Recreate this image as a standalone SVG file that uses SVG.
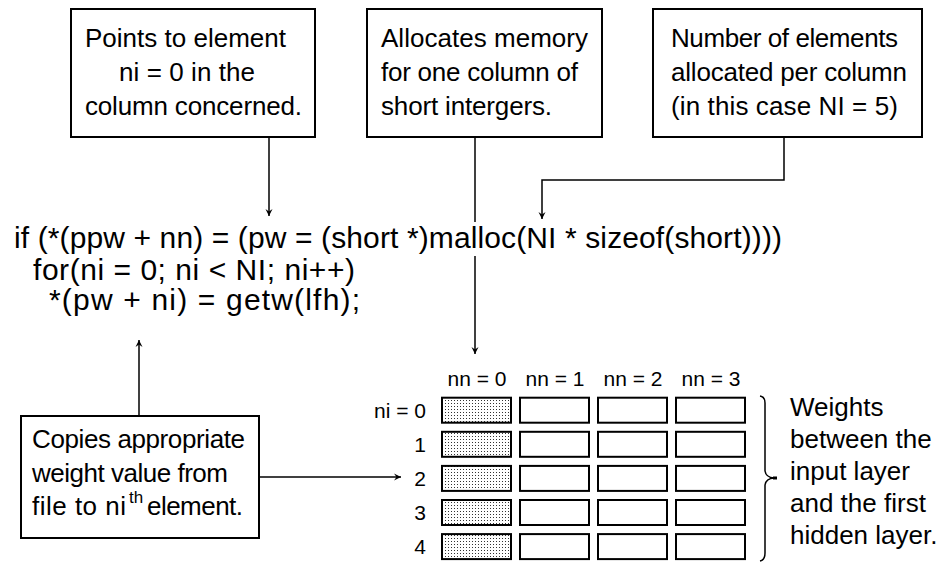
<svg xmlns="http://www.w3.org/2000/svg" width="936" height="562" viewBox="0 0 936 562">
<style>
  .box { fill: #fff; stroke: #000; stroke-width: 2; }
  .t { font-family: "Liberation Sans", Arial, sans-serif; font-size: 26px; fill: #000; }
  .code { font-family: "Liberation Sans", Arial, sans-serif; font-size: 30px; fill: #000; }
  .lab { font-family: "Liberation Sans", Arial, sans-serif; font-size: 21px; fill: #000; }
  .sup { font-family: "Liberation Sans", Arial, sans-serif; font-size: 17px; fill: #000; }
  .ln { fill: none; stroke: #000; stroke-width: 1.5; }
  .cell { fill: #fff; stroke: #000; stroke-width: 2; }
  .cell0 { fill: url(#dots); stroke: #000; stroke-width: 2; }
</style>
<defs>
  <pattern id="dots" x="0" y="0" width="3" height="3" patternUnits="userSpaceOnUse">
    <rect width="3" height="3" fill="#fff"/>
    <rect x="1" y="1" width="1" height="1" fill="#333"/>
  </pattern>
  <marker id="arr" markerUnits="userSpaceOnUse" markerWidth="10" markerHeight="10" refX="8" refY="5" orient="auto">
    <path d="M1,1.5 L8,5 L1,8.5 L3.5,5 Z" fill="#000"/>
  </marker>
</defs>
<rect width="936" height="562" fill="#fff"/>

<g id="note-points">
  <rect class="box" x="71" y="9" width="244" height="128"/>
  <text class="t" x="85" y="47" textLength="201" lengthAdjust="spacing">Points to element</text>
  <text class="t" x="119" y="81" textLength="136" lengthAdjust="spacing">ni = 0 in the</text>
  <text class="t" x="85" y="115" textLength="217" lengthAdjust="spacing">column concerned.</text>
</g>

<g id="note-allocates">
  <rect class="box" x="367" y="9" width="235" height="128"/>
  <text class="t" x="381" y="47" textLength="207" lengthAdjust="spacing">Allocates memory</text>
  <text class="t" x="381" y="81" textLength="197" lengthAdjust="spacing">for one column of</text>
  <text class="t" x="381" y="115" textLength="171" lengthAdjust="spacing">short intergers.</text>
</g>

<g id="note-number">
  <rect class="box" x="653" y="9" width="269" height="128"/>
  <text class="t" x="671" y="47" textLength="227" lengthAdjust="spacing">Number of elements</text>
  <text class="t" x="671" y="81" textLength="236" lengthAdjust="spacing">allocated per column</text>
  <text class="t" x="671" y="115" textLength="227" lengthAdjust="spacing">(in this case NI = 5)</text>
</g>

<g id="code">
  <text class="code" x="14" y="248" textLength="768" lengthAdjust="spacing">if (*(ppw + nn) = (pw = (short *)malloc(NI * sizeof(short))))</text>
  <text class="code" x="33" y="280" textLength="322" lengthAdjust="spacing">for(ni = 0; ni &lt; NI; ni++)</text>
  <text class="code" x="49" y="310" textLength="311" lengthAdjust="spacing">*(pw + ni) = getw(lfh);</text>
</g>

<g id="note-copies">
  <rect class="box" x="21" y="416" width="238" height="122"/>
  <text class="t" x="32" y="448" textLength="213" lengthAdjust="spacing">Copies appropriate</text>
  <text class="t" x="32" y="482" textLength="196" lengthAdjust="spacing">weight value from</text>
  <text class="t" x="32" y="515"><tspan textLength="94" lengthAdjust="spacing">file to ni</tspan></text>
  <text class="sup" x="129" y="503">th</text>
  <text class="t" x="147" y="515" textLength="96" lengthAdjust="spacing">element.</text>
</g>

<g id="array">
  <text class="lab" x="477" y="386" text-anchor="middle">nn = 0</text>
  <text class="lab" x="555" y="386" text-anchor="middle">nn = 1</text>
  <text class="lab" x="633" y="386" text-anchor="middle">nn = 2</text>
  <text class="lab" x="711" y="386" text-anchor="middle">nn = 3</text>
  <text class="lab" x="426" y="418" text-anchor="end">ni = 0</text>
  <text class="lab" x="426" y="452" text-anchor="end">1</text>
  <text class="lab" x="426" y="486" text-anchor="end">2</text>
  <text class="lab" x="426" y="520" text-anchor="end">3</text>
  <text class="lab" x="426" y="554" text-anchor="end">4</text>
  <g>
    <rect class="cell0" x="442" y="397.7" width="69" height="25"/>
    <rect class="cell" x="520" y="397.7" width="69" height="25"/>
    <rect class="cell" x="598" y="397.7" width="69" height="25"/>
    <rect class="cell" x="676" y="397.7" width="69" height="25"/>
    <rect class="cell0" x="442" y="431.8" width="69" height="25"/>
    <rect class="cell" x="520" y="431.8" width="69" height="25"/>
    <rect class="cell" x="598" y="431.8" width="69" height="25"/>
    <rect class="cell" x="676" y="431.8" width="69" height="25"/>
    <rect class="cell0" x="442" y="465.9" width="69" height="25"/>
    <rect class="cell" x="520" y="465.9" width="69" height="25"/>
    <rect class="cell" x="598" y="465.9" width="69" height="25"/>
    <rect class="cell" x="676" y="465.9" width="69" height="25"/>
    <rect class="cell0" x="442" y="500" width="69" height="25"/>
    <rect class="cell" x="520" y="500" width="69" height="25"/>
    <rect class="cell" x="598" y="500" width="69" height="25"/>
    <rect class="cell" x="676" y="500" width="69" height="25"/>
    <rect class="cell0" x="442" y="534.1" width="69" height="25"/>
    <rect class="cell" x="520" y="534.1" width="69" height="25"/>
    <rect class="cell" x="598" y="534.1" width="69" height="25"/>
    <rect class="cell" x="676" y="534.1" width="69" height="25"/>
  </g>
</g>

<g id="note-weights">
  <text class="t" x="790" y="416">Weights</text>
  <text class="t" x="790" y="448">between the</text>
  <text class="t" x="790" y="480">input layer</text>
  <text class="t" x="790" y="512">and the first</text>
  <text class="t" x="790" y="544">hidden layer.</text>
</g>

<g id="connectors">
  <path class="ln" d="M269,137 V216" marker-end="url(#arr)"/>
  <path class="ln" d="M475,137 V222"/>
  <path class="ln" d="M475,256 V354" marker-end="url(#arr)"/>
  <path class="ln" d="M784,137 V180 H542 V219" marker-end="url(#arr)"/>
  <path class="ln" d="M139,416 V340" marker-end="url(#arr)"/>
  <path class="ln" d="M259,477 H401" marker-end="url(#arr)"/>
  <path class="ln" d="M760,396 Q765,397 765,403 V471 Q766,477.5 774,478 Q766,478.5 765,485 V553 Q765,560 760,561"/>
  <rect x="773" y="476.5" width="4" height="3" fill="#000"/>
</g>
</svg>
